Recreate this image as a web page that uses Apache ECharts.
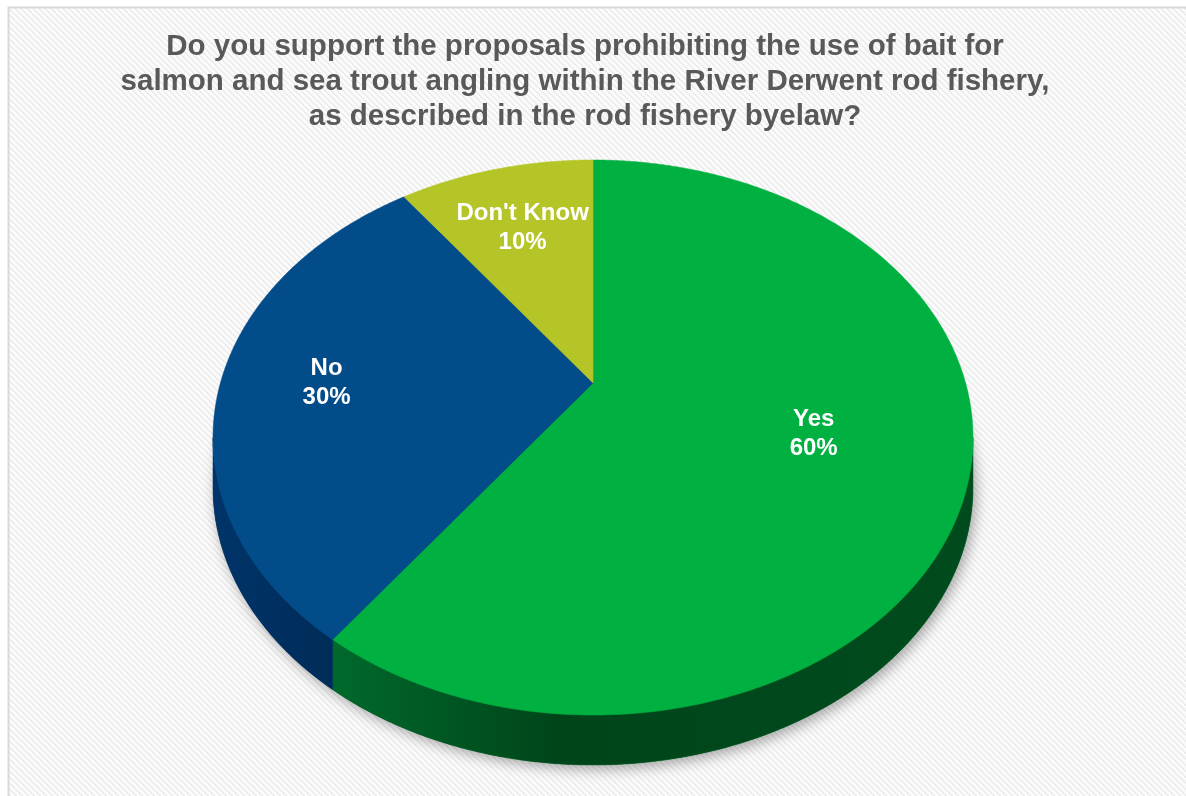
<!DOCTYPE html>
<html>
<head>
<meta charset="utf-8">
<title>River Derwent bait byelaw</title>
<script src="https://cdn.jsdelivr.net/npm/echarts@6/dist/echarts.min.js"></script>
<style>
  html, body { margin: 0; padding: 0; background: #fff; }
  #chart { width: 1186px; height: 796px; }
</style>
</head>
<body>
<div id="chart"></div>
<script>
const categories = ['Yes', 'No', "Don't Know"];
const shares = [60, 30, 10];
const topColors = ['#00b040', '#024c8a', '#b5c426'];
const titleLines = [
  'Do you support the proposals prohibiting the use of bait for',
  'salmon and sea trout angling within the River Derwent rod fishery,',
  'as described in the rod fishery byelaw?'
];

// side wall shading (left -> right)
const sideColors = [
  [['#00692b', 0], ['#00451a', 0.35], ['#004b1d', 1]],
  [['#00346a', 0], ['#002c58', 1]],
  [['#6d7614', 0], ['#5a6210', 1]]
];
// how far out along each slice the label sits (fraction of radius)
const labelRadius = [0.6, 0.715, 0.69];

// 3D pie projection: circle in a tilted plane, seen with perspective
const CX = 593, CY = 383;     // where the pie centre lands
const RX = 372.6, RY = 266.8; // projected radii
const PERSP = 0.1964;         // perspective strength
const DEPTH = 50;             // thickness of the pie

const total = shares.reduce((a, b) => a + b, 0);
const starts = [];
shares.reduce((acc, v, i) => { starts[i] = acc; return acc + v / total * 360; }, 0);

// silhouette of the projected ellipse: where cos(a) == -PERSP
const FRONT_R = Math.acos(-PERSP) * 180 / Math.PI;
const FRONT_L = 360 - FRONT_R;

function proj(deg, r, dy) {
  const a = deg * Math.PI / 180;
  const u = r * Math.sin(a), v = r * Math.cos(a);
  const d = 1 + PERSP * v;
  return [CX + RX * u / d, CY - RY * v / d + (dy || 0)];
}

function arc(a0, a1, dy) {
  const pts = [];
  const n = Math.max(2, Math.ceil(Math.abs(a1 - a0) * 2));
  for (let k = 0; k <= n; k++) pts.push(proj(a0 + (a1 - a0) * k / n, 1, dy));
  return pts;
}

function grad(stops) {
  return {
    type: 'linear', x: 0, y: 0, x2: 1, y2: 0,
    colorStops: stops.map(s => ({ offset: s[1], color: s[0] }))
  };
}

function renderItem(params, api) {
  const i = params.dataIndex;
  const a0 = starts[i];
  const a1 = a0 + api.value(0) / total * 360;
  const children = [];

  if (i === 0) {
    // base with soft drop shadow
    children.push({
      type: 'polygon',
      shape: { points: arc(0, 360, DEPTH) },
      style: {
        fill: '#1a3a20',
        shadowBlur: 14,
        shadowOffsetX: 3,
        shadowOffsetY: 4,
        shadowColor: 'rgba(0,0,0,0.35)'
      }
    });
  }

  const s0 = Math.max(a0, FRONT_R), s1 = Math.min(a1, FRONT_L);
  if (s1 > s0) {
    children.push({
      type: 'polygon',
      shape: { points: arc(s0, s1, 0).concat(arc(s1, s0, DEPTH)) },
      style: { fill: grad(sideColors[i]), stroke: sideColors[i][0][0], lineWidth: 0.5 }
    });
  }

  children.push({
    type: 'polygon',
    shape: { points: [proj(0, 0, 0)].concat(arc(a0, a1, 0)) },
    style: { fill: topColors[i], stroke: topColors[i], lineWidth: 0.5 }
  });

  const lp = proj((a0 + a1) / 2, labelRadius[i], 0);
  const pct = Math.round(api.value(0) / total * 100) + '%';
  children.push({
    type: 'text',
    x: lp[0],
    y: lp[1],
    style: {
      text: categories[i] + '\n' + pct,
      fill: '#ffffff',
      font: 'bold 24px "Liberation Sans", Arial, sans-serif',
      lineHeight: 29,
      align: 'center',
      verticalAlign: 'middle'
    }
  });

  return { type: 'group', children };
}

// diagonal stripe pattern for the chart area
const tile = document.createElement('canvas');
tile.width = tile.height = 6;
const tctx = tile.getContext('2d');
const img = tctx.createImageData(6, 6);
for (let y = 0; y < 6; y++) {
  for (let x = 0; x < 6; x++) {
    const on = (((x - y) % 6) + 6) % 6 < 2;
    const c = on ? 235 : 251;
    const p = (y * 6 + x) * 4;
    img.data[p] = img.data[p + 1] = img.data[p + 2] = c;
    img.data[p + 3] = 255;
  }
}
tctx.putImageData(img, 0, 0);

const chart = echarts.init(document.getElementById('chart'), null, { renderer: 'canvas' });

chart.setOption({
  backgroundColor: '#ffffff',
  animation: false,
  graphic: [{
    type: 'rect',
    z: 0,
    shape: { x: 8.5, y: 7.5, width: 1400, height: 900 },
    style: { fill: { image: tile, repeat: 'repeat' }, stroke: '#d9d9d9', lineWidth: 2 }
  }, {
    // chart title, centred over the plot area
    type: 'text',
    z: 5,
    x: 585,
    y: 29,
    style: {
      text: titleLines.join('\n'),
      fill: '#595959',
      font: 'bold 29.5px "Liberation Sans", Arial, sans-serif',
      lineHeight: 35,
      align: 'center',
      verticalAlign: 'top'
    }
  }],
  series: [{
    type: 'custom',
    coordinateSystem: 'none',
    renderItem: renderItem,
    data: shares,
    z: 2
  }]
});
</script>
</body>
</html>
